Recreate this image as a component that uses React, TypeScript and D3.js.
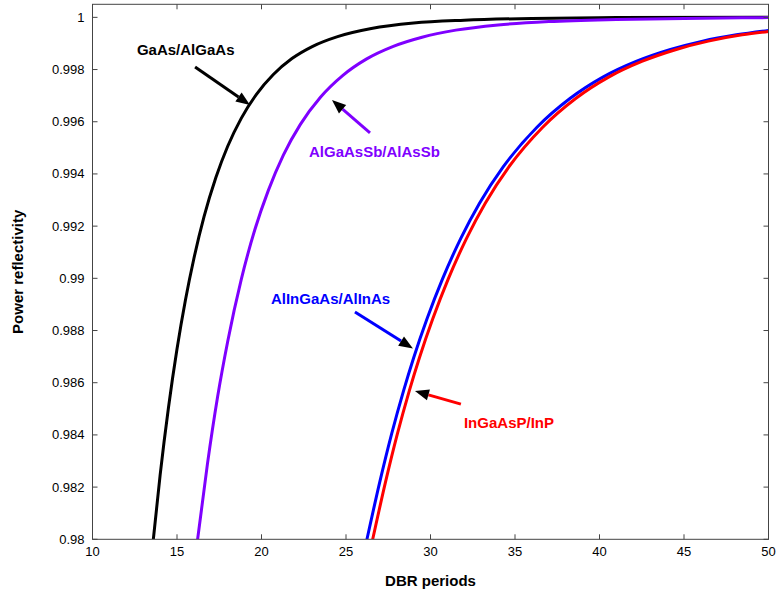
import { scaleLinear, line, curveMonotoneX } from "d3";

// DBR periods (x) and power reflectivity (y)
const gaasPeriods = [13.6, 14.0, 14.5, 15.0, 15.5, 16.0, 16.6, 17.3, 18.0, 18.8, 19.7, 20.7, 21.8, 23.0, 24.5, 26.5, 29.0, 32.0, 36.0, 41.0, 50.0];
const gaasRefl = [0.98, 0.98245, 0.98507, 0.98729, 0.98917, 0.99076, 0.99236, 0.99386, 0.99506, 0.99613, 0.99705, 0.99781, 0.99842, 0.99888, 0.99926, 0.99957, 0.99978, 0.99989, 0.99996, 0.99999, 1.0];

const sbPeriods = [16.22, 16.8, 17.4, 18.0, 18.8, 19.6, 20.4, 21.3, 22.3, 23.5, 24.8, 26.2, 27.8, 29.5, 31.5, 34.0, 37.0, 41.0, 45.0, 50.0];
const sbRefl = [0.98, 0.98288, 0.98545, 0.98758, 0.98995, 0.99185, 0.99336, 0.99473, 0.9959, 0.99695, 0.99777, 0.9984, 0.99889, 0.99924, 0.99951, 0.99971, 0.99984, 0.99992, 0.99996, 0.99999];

const alinPeriods = [26.24, 27.0, 27.7, 28.4, 29.0, 29.8, 30.7, 31.8, 32.9, 34.3, 36.3, 38.25, 40.2, 42.2, 44.2, 46.1, 48.1, 50.0];
const alinRefl = [0.98, 0.9822, 0.98404, 0.98568, 0.98695, 0.98846, 0.98996, 0.99154, 0.99288, 0.99427, 0.99579, 0.99689, 0.99771, 0.99832, 0.99877, 0.99909, 0.99933, 0.9995];

const inpPeriods = [26.58, 27.34, 28.04, 28.74, 29.34, 30.14, 31.04, 32.14, 33.24, 34.64, 36.64, 38.59, 40.54, 42.54, 44.54, 46.44, 48.44, 50.0];
const inpRefl = [0.98, 0.9822, 0.98404, 0.98568, 0.98695, 0.98846, 0.98996, 0.99154, 0.99288, 0.99427, 0.99579, 0.99689, 0.99771, 0.99832, 0.99877, 0.99909, 0.99933, 0.99946];

const xTicks = [10, 15, 20, 25, 30, 35, 40, 45, 50];
const yTicks = [0.98, 0.982, 0.984, 0.986, 0.988, 0.99, 0.992, 0.994, 0.996, 0.998, 1];
const yTickLabels = ["0.98", "0.982", "0.984", "0.986", "0.988", "0.99", "0.992", "0.994", "0.996", "0.998", "1"];

// labels: text position and arrow (from -> tip), in data coordinates
const labelNames = ["GaAs/AlGaAs", "AlGaAsSb/AlAsSb", "AlInGaAs/AlInAs", "InGaAsP/InP"];
const labelPos = [[12.63, 0.99856], [22.81, 0.99465], [20.56, 0.98902], [31.98, 0.98426]];
const arrowFrom = [[16.07, 0.9981], [26.42, 0.99557], [25.53, 0.98871], [31.8, 0.98518]];
const arrowTip = [[19.32, 0.99664], [24.17, 0.99683], [28.96, 0.98731], [29.08, 0.98568]];

const colors = ["#000000", "#7f00ff", "#0000ff", "#ff0000"];
const FONT = "'Liberation Sans', Arial, Helvetica, sans-serif";

const W = 778;
const H = 596;
const left = 92.5;
const right = 768.5;
const top = 4.3;
const bottom = 539.3;

export default function App() {
  const x = scaleLinear().domain([10, 50]).range([left, right]);
  const y = scaleLinear().domain([0.98, 1.0005]).range([bottom, top]);

  const series = [
    gaasPeriods.map((p, i) => [p, gaasRefl[i]] as [number, number]),
    sbPeriods.map((p, i) => [p, sbRefl[i]] as [number, number]),
    alinPeriods.map((p, i) => [p, alinRefl[i]] as [number, number]),
    inpPeriods.map((p, i) => [p, inpRefl[i]] as [number, number]),
  ];

  const path = line<[number, number]>()
    .x((d) => x(d[0]))
    .y((d) => y(d[1]))
    .curve(curveMonotoneX);

  // arrow head triangle at the tip
  const head = (i: number) => {
    const x0 = x(arrowFrom[i][0]);
    const y0 = y(arrowFrom[i][1]);
    const x1 = x(arrowTip[i][0]);
    const y1 = y(arrowTip[i][1]);
    const len = Math.hypot(x1 - x0, y1 - y0);
    const ux = (x1 - x0) / len;
    const uy = (y1 - y0) / len;
    const hl = 14;
    const hw = 5.5;
    const bx = x1 - ux * hl;
    const by = y1 - uy * hl;
    return {
      base: [bx, by],
      d: `M${x1},${y1} L${bx - uy * hw},${by + ux * hw} L${bx + uy * hw},${by - ux * hw} Z`,
    };
  };

  const tick = 5;
  const axisColor = "#444";

  return (
    <svg
      width={W}
      height={H}
      style={{ position: "absolute", left: 0, top: 0, background: "#fff" }}
    >
      <defs>
        <clipPath id="plot">
          <rect x={left} y={top} width={right - left} height={bottom - top} />
        </clipPath>
      </defs>

      {/* curves */}
      <g clipPath="url(#plot)" fill="none" strokeWidth={3} strokeLinejoin="round">
        {series.map((s, i) => (
          <path key={i} d={path(s) ?? ""} stroke={colors[i]} />
        ))}
      </g>

      {/* frame */}
      <rect
        x={left}
        y={top}
        width={right - left}
        height={bottom - top}
        fill="none"
        stroke={axisColor}
        strokeWidth={1}
      />

      {/* ticks on all four sides, pointing in */}
      <g stroke={axisColor} strokeWidth={1}>
        {xTicks.map((t) => (
          <g key={t}>
            <line x1={x(t)} x2={x(t)} y1={bottom} y2={bottom - tick} />
            <line x1={x(t)} x2={x(t)} y1={top} y2={top + tick} />
          </g>
        ))}
        {yTicks.map((t) => (
          <g key={t}>
            <line x1={left} x2={left + tick} y1={y(t)} y2={y(t)} />
            <line x1={right} x2={right - tick} y1={y(t)} y2={y(t)} />
          </g>
        ))}
      </g>

      <g fontFamily={FONT} fontSize={13} fill="#000">
        {xTicks.map((t) => (
          <text key={t} x={x(t)} y={bottom + 17} textAnchor="middle">
            {t}
          </text>
        ))}
        {yTicks.map((t, i) => (
          <text key={t} x={left - 8} y={y(t) + 4.5} textAnchor="end">
            {yTickLabels[i]}
          </text>
        ))}
      </g>

      {/* axis titles */}
      <text
        x={(left + right) / 2}
        y={586}
        textAnchor="middle"
        fontFamily={FONT}
        fontSize={15}
        fontWeight="bold"
      >
        DBR periods
      </text>
      <text
        transform={`translate(23, ${(top + bottom) / 2}) rotate(-90)`}
        textAnchor="middle"
        fontFamily={FONT}
        fontSize={15}
        fontWeight="bold"
      >
        Power reflectivity
      </text>

      {/* annotations */}
      {labelNames.map((name, i) => {
        const h = head(i);
        return (
          <g key={name}>
            <text
              x={x(labelPos[i][0])}
              y={y(labelPos[i][1])}
              fontFamily={FONT}
              fontSize={15}
              fontWeight="bold"
              fill={colors[i]}
            >
              {name}
            </text>
            <line
              x1={x(arrowFrom[i][0])}
              y1={y(arrowFrom[i][1])}
              x2={h.base[0]}
              y2={h.base[1]}
              stroke={colors[i]}
              strokeWidth={3}
            />
            <path d={h.d} fill="#000" />
          </g>
        );
      })}
    </svg>
  );
}
